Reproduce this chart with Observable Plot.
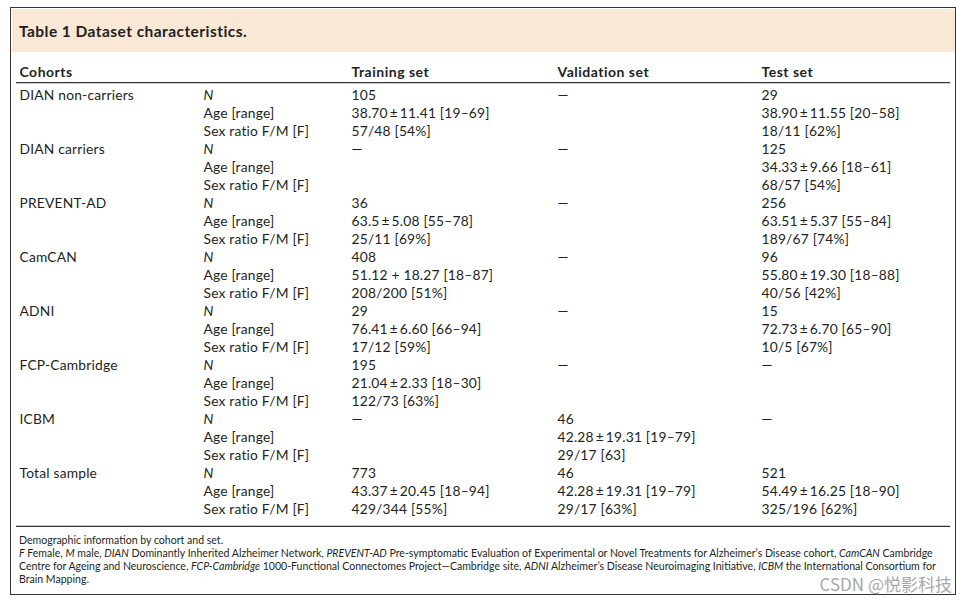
<!DOCTYPE html>
<html><head><meta charset="utf-8">
<script src="https://cdn.jsdelivr.net/npm/d3@7"></script>
<script src="https://cdn.jsdelivr.net/npm/@observablehq/plot@0.6"></script>
<style>
body{margin:0;background:#fff;font-family:Lato,"Open Sans",sans-serif;color:#231f20;width:972px;height:601px;overflow:hidden;position:relative}
#box{position:absolute;left:10px;top:7px;width:946px;height:588px;box-sizing:border-box;border:1.5px solid #333}
#title{position:absolute;left:11.5px;top:8.5px;width:943px;height:43.5px;background:#f8e8d5}
#titletext{position:absolute;left:19px;top:8.5px;height:43.5px;line-height:44px;font-weight:700;font-size:15.5px;letter-spacing:0.45px}
#chart{position:absolute;left:0;top:52px}
#note{position:absolute;left:19px;top:533.5px;font-size:10.55px;line-height:13px;white-space:nowrap}
#note i{font-style:italic}
#wm{position:absolute;right:20px;top:574px;font-size:17px;line-height:19px;color:#a8a8a8;font-family:"Noto Sans CJK SC",sans-serif;white-space:nowrap}
</style>
</head><body>
<div id="box"></div>
<div id="title"></div>
<div id="titletext">Table 1 Dataset characteristics.</div>
<div id="chart"></div>
<div id="note">
<div>Demographic information by cohort and set.</div>
<div><i>F</i> Female, <i>M</i> male, <i>DIAN</i> Dominantly Inherited Alzheimer Network, <i>PREVENT-AD</i> Pre-symptomatic Evaluation of Experimental or Novel Treatments for Alzheimer’s Disease cohort, <i>CamCAN</i> Cambridge</div>
<div>Centre for Ageing and Neuroscience, <i>FCP-Cambridge</i> 1000-Functional Connectomes Project—Cambridge site, <i>ADNI</i> Alzheimer’s Disease Neuroimaging Initiative, <i>ICBM</i> the International Consortium for</div>
<div>Brain Mapping.</div>
</div>
<div id="wm">CSDN @悦影科技</div>
<script>
// ---- data ----
const headers = ["Cohorts", "", "Training set", "Validation set", "Test set"];
const cohorts = ["DIAN non-carriers", "DIAN carriers", "PREVENT-AD", "CamCAN", "ADNI", "FCP-Cambridge", "ICBM", "Total sample"];
const params = ["N", "Age [range]", "Sex ratio F/M [F]"];
const trainingSet = [
  "105", "38.70\u2009±\u200911.41 [19–69]", "57/48 [54%]",
  "—", "", "",
  "36", "63.5\u2009±\u20095.08 [55–78]", "25/11 [69%]",
  "408", "51.12 + 18.27 [18–87]", "208/200 [51%]",
  "29", "76.41\u2009±\u20096.60 [66–94]", "17/12 [59%]",
  "195", "21.04\u2009±\u20092.33 [18–30]", "122/73 [63%]",
  "—", "", "",
  "773", "43.37\u2009±\u200920.45 [18–94]", "429/344 [55%]"
];
const validationSet = [
  "—", "", "",
  "—", "", "",
  "—", "", "",
  "—", "", "",
  "—", "", "",
  "—", "", "",
  "46", "42.28\u2009±\u200919.31 [19–79]", "29/17 [63]",
  "46", "42.28\u2009±\u200919.31 [19–79]", "29/17 [63%]"
];
const testSet = [
  "29", "38.90\u2009±\u200911.55 [20–58]", "18/11 [62%]",
  "125", "34.33\u2009±\u20099.66 [18–61]", "68/57 [54%]",
  "256", "63.51\u2009±\u20095.37 [55–84]", "189/67 [74%]",
  "96", "55.80\u2009±\u200919.30 [18–88]", "40/56 [42%]",
  "15", "72.73\u2009±\u20096.70 [65–90]", "10/5 [67%]",
  "—", "", "",
  "—", "", "",
  "521", "54.49\u2009±\u200916.25 [18–90]", "325/196 [62%]"
];

// ---- layout ----
const colX = [19, 203, 351, 557, 761];
const headerRow = -1.28, headerRule = -0.72, footRule = 23.94;
const ink = "#231f20";
const fs = 13.8;
const font = "Lato, 'Open Sans', sans-serif";

const rows = d3.range(cohorts.length * params.length).map(i => ({
  i,
  cohort: i % 3 === 0 ? cohorts[i / 3] : "",
  param: params[i % 3],
  train: trainingSet[i],
  val: validationSet[i],
  test: testSet[i]
}));
const head = headers.map((h, k) => ({h, x: colX[k]}));

const common = {y: "i", textAnchor: "start", fontSize: fs, fill: ink, fontFamily: font};

const chart = Plot.plot({
  width: 972,
  height: 480,
  margin: 0,
  x: {type: "linear", domain: [0, 972], range: [0, 972], axis: null},
  y: {type: "linear", domain: [0, 23], range: [43, 457], axis: null},
  style: {background: "transparent", overflow: "visible", letterSpacing: "0.2px"},
  marks: [
    Plot.text(head, {x: "x", y: () => headerRow, text: "h", textAnchor: "start", fontSize: 14, fontWeight: "bold", fill: ink, fontFamily: font}),
    Plot.ruleY([headerRule, footRule], {x1: 16, x2: 950, stroke: "#333", strokeWidth: 1.3}),
    Plot.text(rows, {...common, x: () => colX[0], text: "cohort"}),
    Plot.text(rows.filter(d => d.param === "N"), {...common, x: () => colX[1], text: "param", fontStyle: "italic"}),
    Plot.text(rows.filter(d => d.param !== "N"), {...common, x: () => colX[1], text: "param"}),
    Plot.text(rows, {...common, x: () => colX[2], text: "train"}),
    Plot.text(rows, {...common, x: () => colX[3], text: "val"}),
    Plot.text(rows, {...common, x: () => colX[4], text: "test"})
  ]
});
chart.querySelectorAll("g[aria-label='text']").forEach((g, k) => { if (k === 0) g.setAttribute("letter-spacing", "0.5px"); });
document.getElementById("chart").appendChild(chart);
</script>
</body></html>
